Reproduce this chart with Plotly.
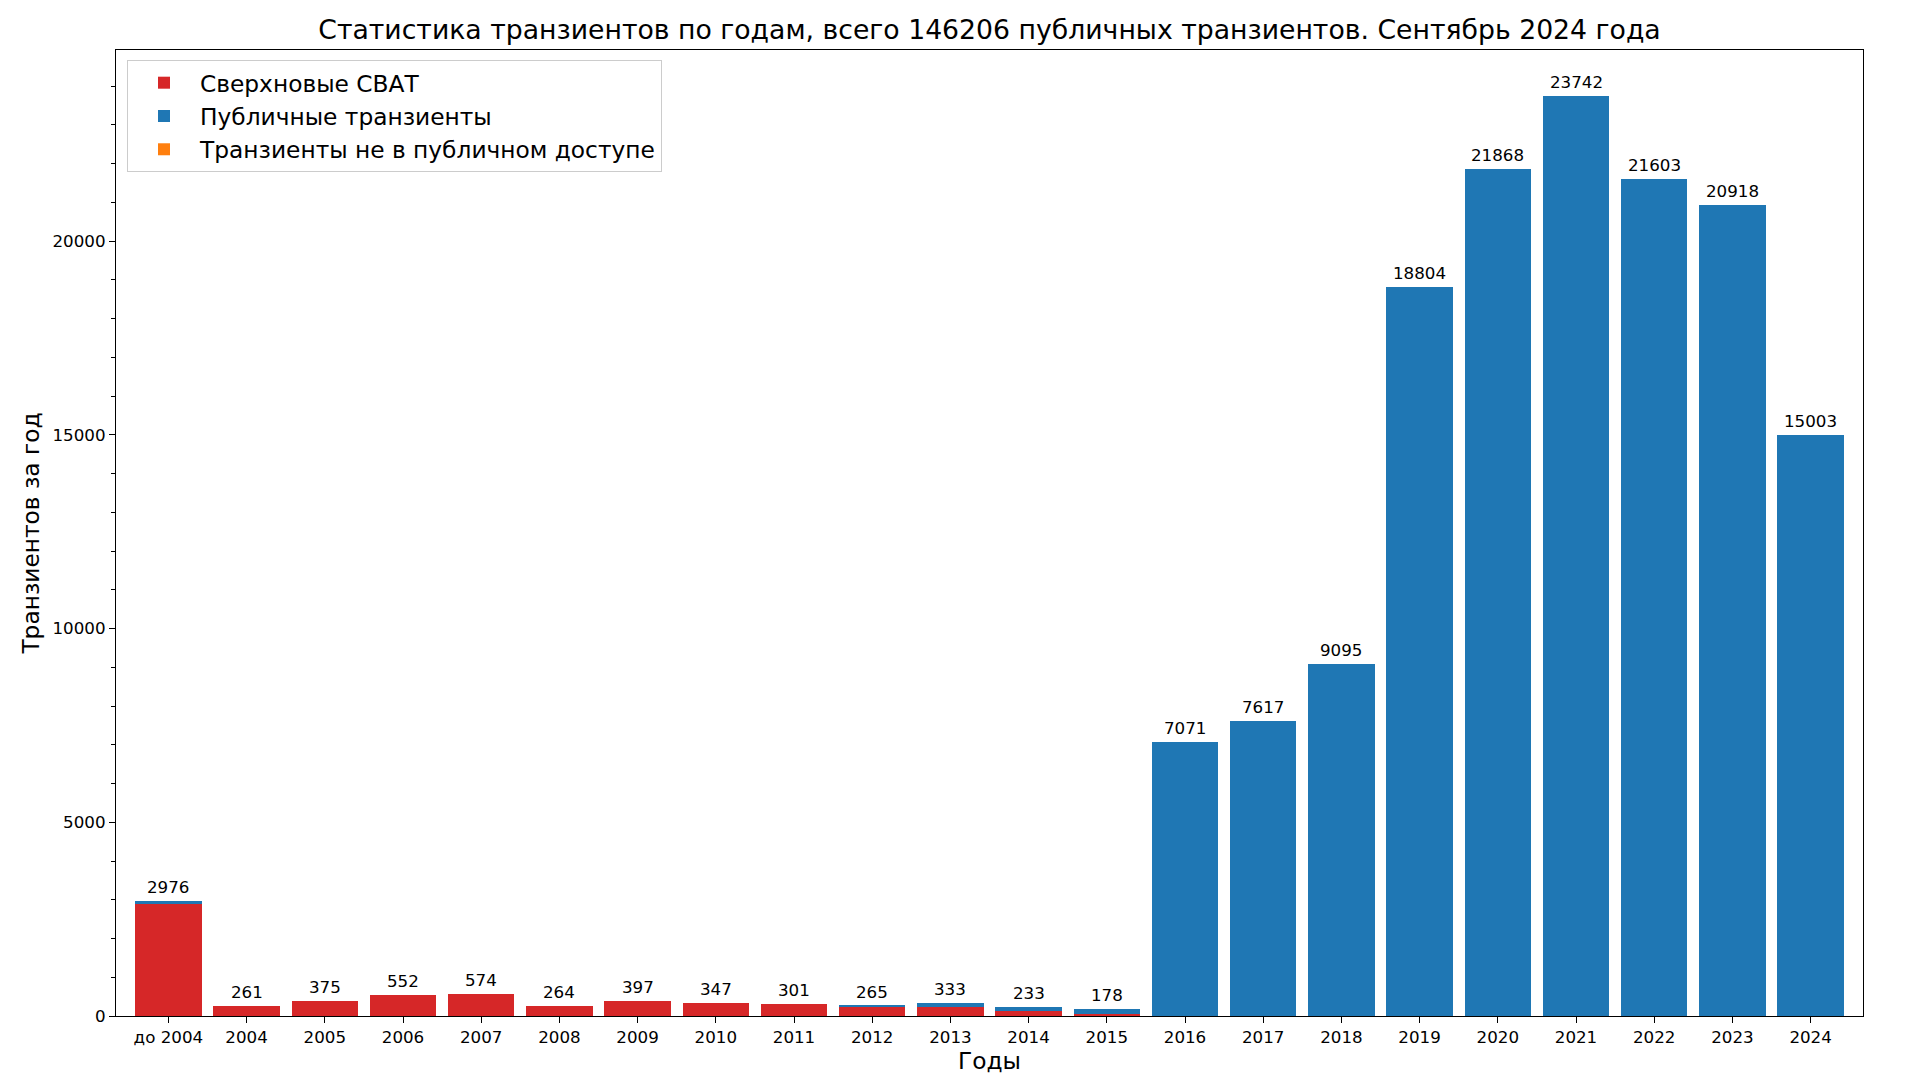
import plotly.graph_objects as go

categories = ["до 2004", "2004", "2005", "2006", "2007", "2008", "2009", "2010", "2011",
              "2012", "2013", "2014", "2015", "2016", "2017", "2018", "2019", "2020",
              "2021", "2022", "2023", "2024"]
totals = [2976, 261, 375, 552, 574, 264, 397, 347, 301, 265, 333, 233, 178,
          7071, 7617, 9095, 18804, 21868, 23742, 21603, 20918, 15003]
supernovae = [2880, 261, 375, 552, 574, 264, 397, 347, 301, 239, 233, 133, 57,
              0, 0, 0, 0, 0, 0, 0, 0, 0]
public_other = [t - s for t, s in zip(totals, supernovae)]
non_public = [0] * len(categories)

y_tickvals = [0, 5000, 10000, 15000, 20000]
y_ticktext = ["0", "5000", "10000", "15000", "20000"]

title_text = "Статистика транзиентов по годам, всего 146206 публичных транзиентов. Сентябрь 2024 года"

RED = "#d62728"
BLUE = "#1f77b4"
ORANGE = "#ff7f0e"
FONT = "DejaVu Sans"

xs = list(range(len(categories)))

fig = go.Figure()
fig.add_trace(go.Bar(x=xs, y=supernovae, name="Сверхновые СВАТ", marker=dict(color=RED, line=dict(width=0))))
fig.add_trace(go.Bar(x=xs, y=public_other, name="Публичные транзиенты", marker=dict(color=BLUE, line=dict(width=0))))
fig.add_trace(go.Bar(x=xs, y=non_public, name="Транзиенты не в публичном доступе", marker=dict(color=ORANGE, line=dict(width=0))))

for x, t in zip(xs, totals):
    fig.add_annotation(x=x, y=t, xref="x", yref="y", text=str(t), showarrow=False,
                       xanchor="center", yanchor="bottom", yshift=2,
                       font=dict(size=16.7, color="black", family=FONT))

fig.update_layout(
    width=1920, height=1080,
    barmode="stack", bargap=0.15,
    plot_bgcolor="white", paper_bgcolor="white",
    font=dict(family=FONT, color="black"),
    margin=dict(l=108, r=65, t=42, b=72),
    title=dict(text=title_text, x=0.5, xref="paper", xanchor="center", y=1 - 21.5 / 1080, yanchor="middle",
               font=dict(size=26.7, family=FONT, color="black")),
    legend=dict(x=0.0063, y=0.9896, xanchor="left", yanchor="top",
                bgcolor="rgba(255,255,255,0.8)", bordercolor="#cccccc", borderwidth=1,
                font=dict(size=23.3, family=FONT, color="black"), traceorder="normal",
                itemwidth=62, tracegroupgap=4),
    showlegend=True,
)
fig.update_xaxes(
    range=[-0.67, 21.67], tickmode="array", tickvals=xs, ticktext=categories,
    showline=True, linecolor="black", linewidth=1.2, mirror=True,
    ticks="outside", ticklen=6, tickcolor="black", showgrid=False, zeroline=False,
    tickfont=dict(size=16.7, family=FONT, color="black"),
    title=dict(text="Годы", font=dict(size=23.3, family=FONT, color="black"), standoff=5),
)
fig.update_yaxes(
    range=[0, 24929], tickmode="array", tickvals=y_tickvals, ticktext=y_ticktext,
    showline=True, linecolor="black", linewidth=1.2, mirror=True,
    ticks="outside", ticklen=6, tickcolor="black", showgrid=False, zeroline=False,
    minor=dict(dtick=1000, ticks="outside", ticklen=3.5, tickcolor="black", showgrid=False),
    tickfont=dict(size=16.7, family=FONT, color="black"),
    title=dict(text="Транзиентов за год", font=dict(size=23.3, family=FONT, color="black"), standoff=6),
)

fig.write_html("out.html")
